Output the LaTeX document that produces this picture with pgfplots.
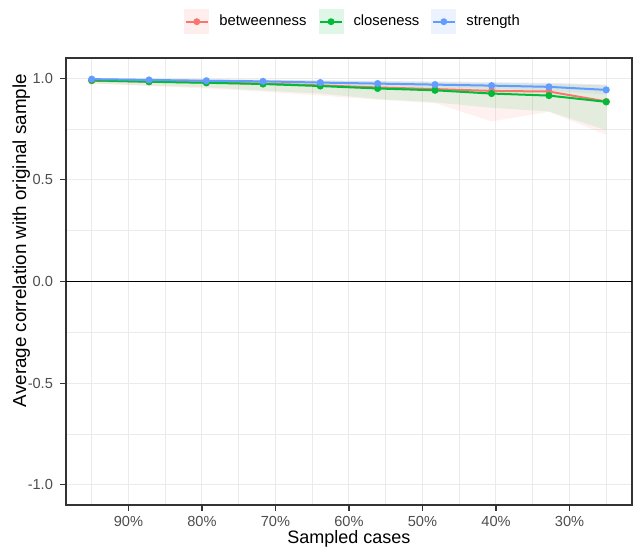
\documentclass[border=0pt]{standalone}
\usepackage{fontspec}
\setmainfont{Liberation Sans}
\usepackage{pgfplots}
\pgfplotsset{compat=1.18}
\definecolor{cbet}{HTML}{F8766D}
\definecolor{ccls}{HTML}{00BA38}
\definecolor{cstr}{HTML}{619CFF}
\definecolor{gridc}{HTML}{EBEBEB}
\definecolor{tickc}{HTML}{4D4D4D}
\definecolor{framec}{HTML}{333333}
\begin{document}
\begin{tikzpicture}
\useasboundingbox (-33pt,-23pt) rectangle (283.5pt,252.5pt);
\begin{axis}[
  at={(0pt,0pt)}, anchor=south west,
  scale only axis, width=283pt, height=223.5pt,
  xmin=21.5, xmax=98.5, ymin=-1.1, ymax=1.1,
  x dir=reverse,
  xtick={90,80,70,60,50,40,30},
  xticklabels={90\%,80\%,70\%,60\%,50\%,40\%,30\%},
  minor xtick={95,85,75,65,55,45,35,25},
  ytick={-1,-0.5,0,0.5,1},
  yticklabels={-1.0,-0.5,0.0,0.5,1.0},
  minor ytick={-0.75,-0.25,0.25,0.75},
  grid=both,
  major grid style={gridc, line width=0.5pt},
  minor grid style={gridc, line width=0.3pt},
  axis line style={framec, line width=0.6pt},
  tick align=outside, major tick length=3pt, minor tick length=0pt,
  tick style={framec, line width=0.55pt},
  xtick pos=left, ytick pos=left,
  ticklabel style={font=\fontsize{7.3}{8.5}\selectfont, text=tickc},
  xticklabel style={yshift=1pt},
  xlabel={Sampled cases},
  ylabel={Average correlation with original sample},
  xlabel style={font=\fontsize{9.0}{11}\selectfont, at={(axis description cs:0.5,-0.0754)}, anchor=center},
  ylabel style={font=\fontsize{9.4}{11}\selectfont, at={(axis description cs:-0.0790,0.5917)}, anchor=center, rotate=0},
  legend style={at={(axis description cs:0.509,1.0812)}, anchor=center,
    draw=none, fill=none, font=\fontsize{7.4}{8.5}\selectfont,
    /tikz/every odd column/.append style={column sep=3pt},
    /tikz/every even column/.append style={column sep=4pt}},
  legend columns=3,
  legend cell align=left,
  legend image code/.code={
    \fill[#1, fill opacity=0.12, draw=none] (0pt,-6.25pt) rectangle (12.5pt,6.25pt);
    \draw[#1, line width=1pt] (0.8pt,0pt) -- (11.7pt,0pt);
    \fill[#1] (6.25pt,0pt) circle (1.2pt);
  },
]
% quantile bands
\addplot[draw=none, fill=cbet, fill opacity=0.1, forget plot] coordinates {
  (95,1.000) (87.2,0.997) (79.4,0.995) (71.7,0.992) (63.9,0.990) (56.1,0.987) (48.3,0.984) (40.6,0.980) (32.8,0.977) (25.0,0.970)
  (25.0,0.722) (32.8,0.835) (40.6,0.788) (48.3,0.878) (56.1,0.895) (63.9,0.915) (71.7,0.935) (79.4,0.950) (87.2,0.962) (95,0.975)
};
\addplot[draw=none, fill=ccls, fill opacity=0.1, forget plot] coordinates {
  (95,1.000) (87.2,0.997) (79.4,0.995) (71.7,0.992) (63.9,0.988) (56.1,0.985) (48.3,0.980) (40.6,0.977) (32.8,0.973) (25.0,0.965)
  (25.0,0.745) (32.8,0.837) (40.6,0.855) (48.3,0.882) (56.1,0.898) (63.9,0.925) (71.7,0.940) (79.4,0.955) (87.2,0.965) (95,0.975)
};
\addplot[draw=none, fill=cstr, fill opacity=0.1, forget plot] coordinates {
  (95,1.000) (87.2,0.998) (79.4,0.996) (71.7,0.994) (63.9,0.990) (56.1,0.988) (48.3,0.985) (40.6,0.982) (32.8,0.978) (25.0,0.968)
  (25.0,0.920) (32.8,0.940) (40.6,0.948) (48.3,0.955) (56.1,0.962) (63.9,0.970) (71.7,0.975) (79.4,0.980) (87.2,0.985) (95,0.990)
};
\addplot[black, line width=0.6pt, forget plot] coordinates {(21.5,0) (98.5,0)};
% mean lines
\addplot[cbet, line width=1pt, mark=*, mark size=1.25pt] coordinates {
  (95,0.988) (87.2,0.984) (79.4,0.979) (71.7,0.974) (63.9,0.965) (56.1,0.955) (48.3,0.947) (40.6,0.938) (32.8,0.935) (25.0,0.886)
};
\addlegendentry{betweenness}
\addplot[ccls, line width=1pt, mark=*, mark size=1.25pt] coordinates {
  (95,0.990) (87.2,0.983) (79.4,0.978) (71.7,0.972) (63.9,0.962) (56.1,0.950) (48.3,0.941) (40.6,0.925) (32.8,0.915) (25.0,0.884)
};
\addlegendentry{closeness}
\addplot[cstr, line width=1pt, mark=*, mark size=1.25pt] coordinates {
  (95,0.996) (87.2,0.992) (79.4,0.988) (71.7,0.985) (63.9,0.979) (56.1,0.974) (48.3,0.969) (40.6,0.964) (32.8,0.958) (25.0,0.943)
};
\addlegendentry{strength}
\end{axis}
\end{tikzpicture}
\end{document}
